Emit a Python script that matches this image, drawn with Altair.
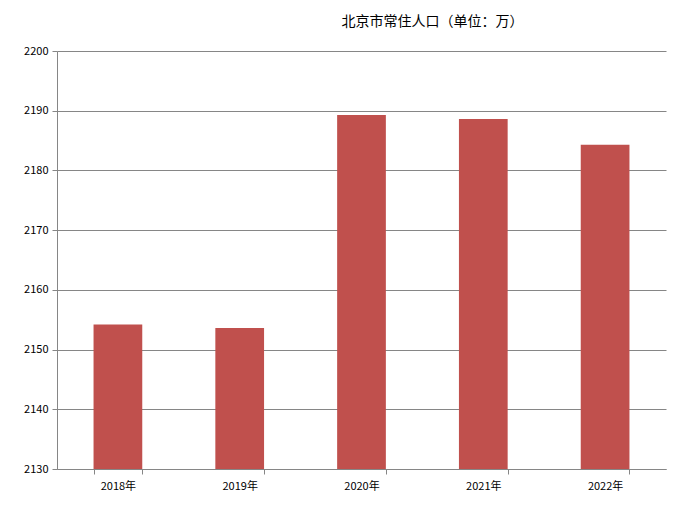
import altair as alt
import pandas as pd

years = ["2018年", "2019年", "2020年", "2021年", "2022年"]
population = [2154.2, 2153.6, 2189.3, 2188.6, 2184.3]
y_ticks = [2130, 2140, 2150, 2160, 2170, 2180, 2190, 2200]

df = pd.DataFrame({"year": years, "pop": population})

font = "Noto Sans CJK SC"

chart = alt.Chart(df).mark_bar(color="#C0504D", clip=True).encode(
    x=alt.X("year:N", sort=years, title=None,
            scale=alt.Scale(paddingInner=0.6, paddingOuter=0.3),
            axis=alt.Axis(labelAngle=0, tickBand="extent", tickSize=5,
                          tickColor="#868686", domainColor="#868686",
                          labelFont=font, labelFontSize=11, labelColor="#000000",
                          labelPadding=6, grid=False)),
    y=alt.Y("pop:Q", title=None,
            scale=alt.Scale(domain=[2130, 2200], nice=False, zero=False),
            axis=alt.Axis(values=y_ticks, format="d",
                          tickSize=5, tickColor="#868686", domainColor="#868686",
                          gridColor="#868686", gridWidth=1,
                          labelFont=font, labelFontSize=11, labelColor="#000000",
                          labelPadding=4)),
).properties(
    width=609,
    height=418,
    title=alt.TitleParams("北京市常住人口（单位：万）", font=font, fontSize=14,
                          fontWeight="normal", color="#000000", anchor="middle",
                          dx=71, offset=16),
    autosize=alt.AutoSizeParams(type="none"),
    padding={"left": 49, "top": 43, "right": 14, "bottom": 31},
).configure_view(stroke=None)

chart.save("out.html", embed_options={"renderer": "svg", "actions": False})
